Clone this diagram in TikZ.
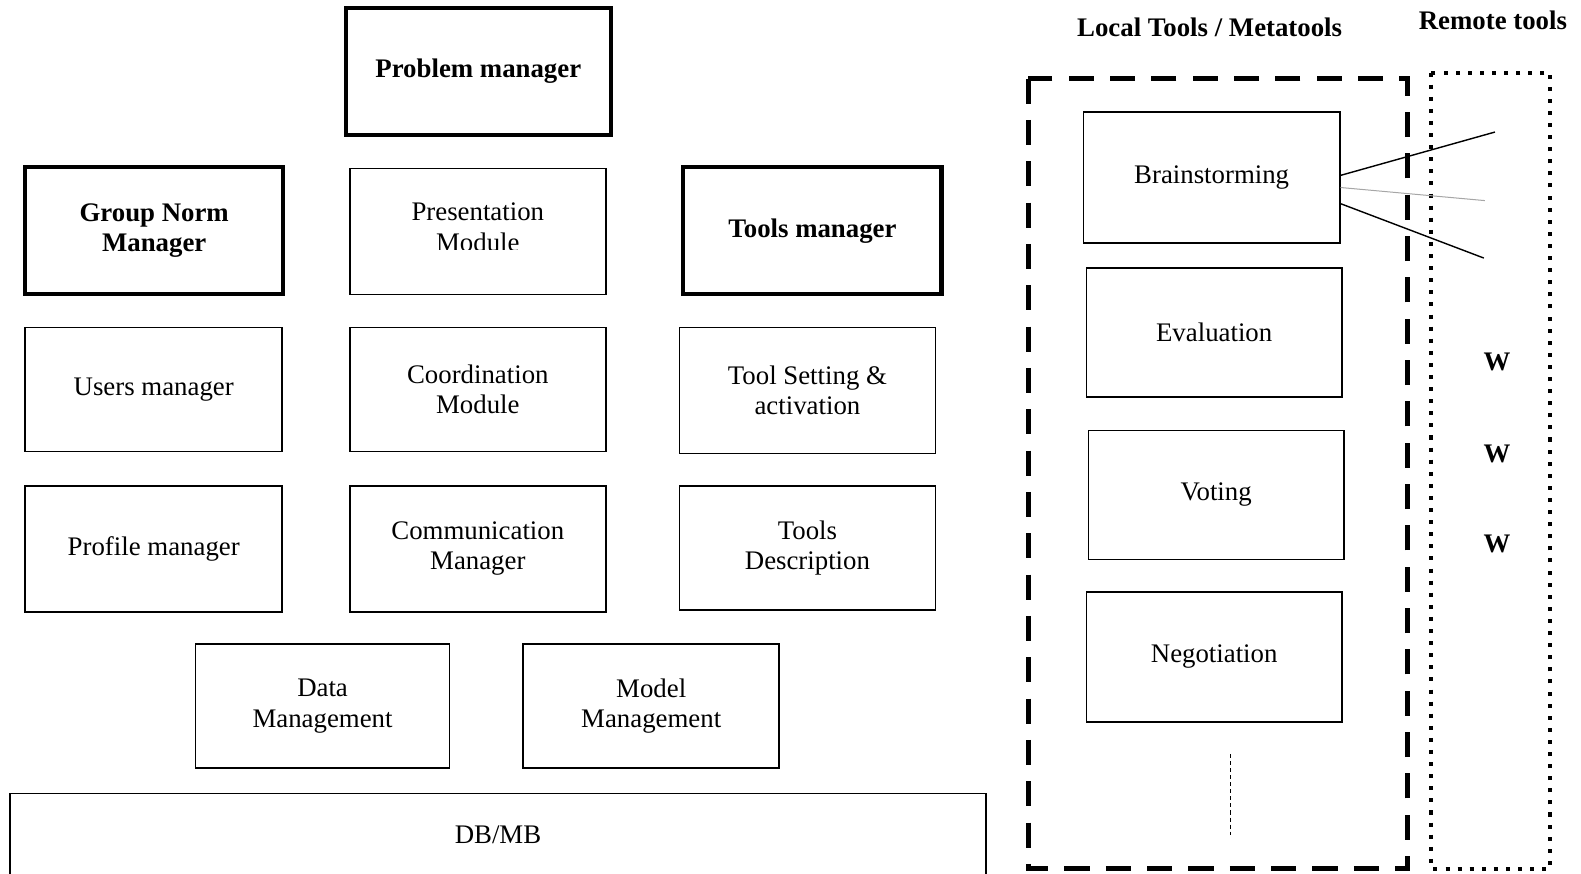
\documentclass[tikz,border=0pt]{standalone}
\usepackage{fontspec}
\setmainfont{Liberation Serif}
\begin{document}
\begin{tikzpicture}[x=0.5pt,y=-0.5pt,
  every node/.style={font=\fontsize{13.3}{15}\selectfont, align=center, inner sep=0pt},
  thinbox/.style={draw, line width=0.8pt, rectangle},
  thickbox/.style={draw, line width=2pt, rectangle, font=\fontsize{13.3}{15}\selectfont\bfseries},
  lbl/.style={font=\fontsize{13.3}{15}\selectfont\bfseries},
  localframe/.style={draw, line width=2.5pt, dash pattern=on 12.5pt off 8pt},
  remoteframe/.style={draw, line width=2pt, dash pattern=on 2pt off 4pt},
  link/.style={draw, line width=0.7pt}]
\useasboundingbox (0,0) rectangle (1568.4,867);

% left block
\node[thickbox, minimum width=131.5pt, minimum height=63pt] (pm) at (474.5,71) {Problem manager};
\node[thickbox, minimum width=128pt, minimum height=63pt] (gn) at (153,229) {Group Norm\\Manager};
\node[thinbox, minimum width=127pt, minimum height=62.5pt] (pres) at (474,229.5) {};
\begin{scope}
  \clip (350,170) rectangle (598,248);
  \node (prestext) at (474,225.5) {Presentation\\Module};
\end{scope}
\node[thickbox, minimum width=128pt, minimum height=63pt] (tm) at (806,229) {Tools manager};
\node[thinbox, minimum width=127.5pt, minimum height=61.5pt] (um) at (152.5,386.5) {Users manager};
\node[thinbox, minimum width=127pt, minimum height=61.5pt] (cm) at (474,386.5) {Coordination\\Module};
\node[thinbox, minimum width=127pt, minimum height=62.5pt] (ts) at (801,387.5) {Tool Setting \&\\activation};
\node[thinbox, minimum width=127.5pt, minimum height=62.5pt] (prof) at (152.5,544.5) {Profile manager};
\node[thinbox, minimum width=127pt, minimum height=62.5pt] (comm) at (474,544.5) {Communication\\Manager};
\node[thinbox, minimum width=127pt, minimum height=61.5pt] (td) at (801,543.5) {Tools\\Description};
\node[thinbox, minimum width=126pt, minimum height=61.5pt] (dm) at (320,700.5) {Data\\Management};
\node[thinbox, minimum width=127pt, minimum height=61.5pt] (mm) at (646,700.5) {Model\\Management};
\draw[line width=0.8pt] (10,868) -- (10,787) -- (978,787) -- (978,868);
\node (db) at (494,828) {DB/MB};

% right block
\node[lbl] (loc) at (1200,27) {Local Tools / Metatools};
\node[lbl] (rem) at (1481,20) {Remote tools};
\draw[localframe] (1020,78) rectangle (1396,862);
\draw[remoteframe] (1420,72) rectangle (1538,862);

\node[thinbox, minimum width=127pt, minimum height=65pt] (bs) at (1202,176) {Brainstorming};
\node[thinbox, minimum width=126.5pt, minimum height=64pt] (ev) at (1204.5,330) {Evaluation};
\node[thinbox, minimum width=126.5pt, minimum height=64pt] (vo) at (1206.5,491) {Voting};
\node[thinbox, minimum width=126.5pt, minimum height=64.5pt] (ne) at (1204.5,651.5) {Negotiation};

\coordinate (d1) at (1221,748);
\coordinate (d2) at (1221,828);
\draw[line width=0.6pt, dash pattern=on 2pt off 1.5pt] (d1) -- (d2);

\coordinate (r1) at (1483,131);
\coordinate (r2) at (1473,199);
\coordinate (r3) at (1472,256);
\draw[link] ([yshift=1pt]bs.east) -- (r1);
\draw[line width=0.5pt, gray!70] ([yshift=-5pt]bs.east) -- (r2);
\draw[link] ([yshift=-13pt]bs.east) -- (r3);

\node[lbl] (w1) at (1485,359) {W};
\node[lbl] (w2) at (1485,450) {W};
\node[lbl] (w3) at (1485,540) {W};
\end{tikzpicture}
\end{document}
